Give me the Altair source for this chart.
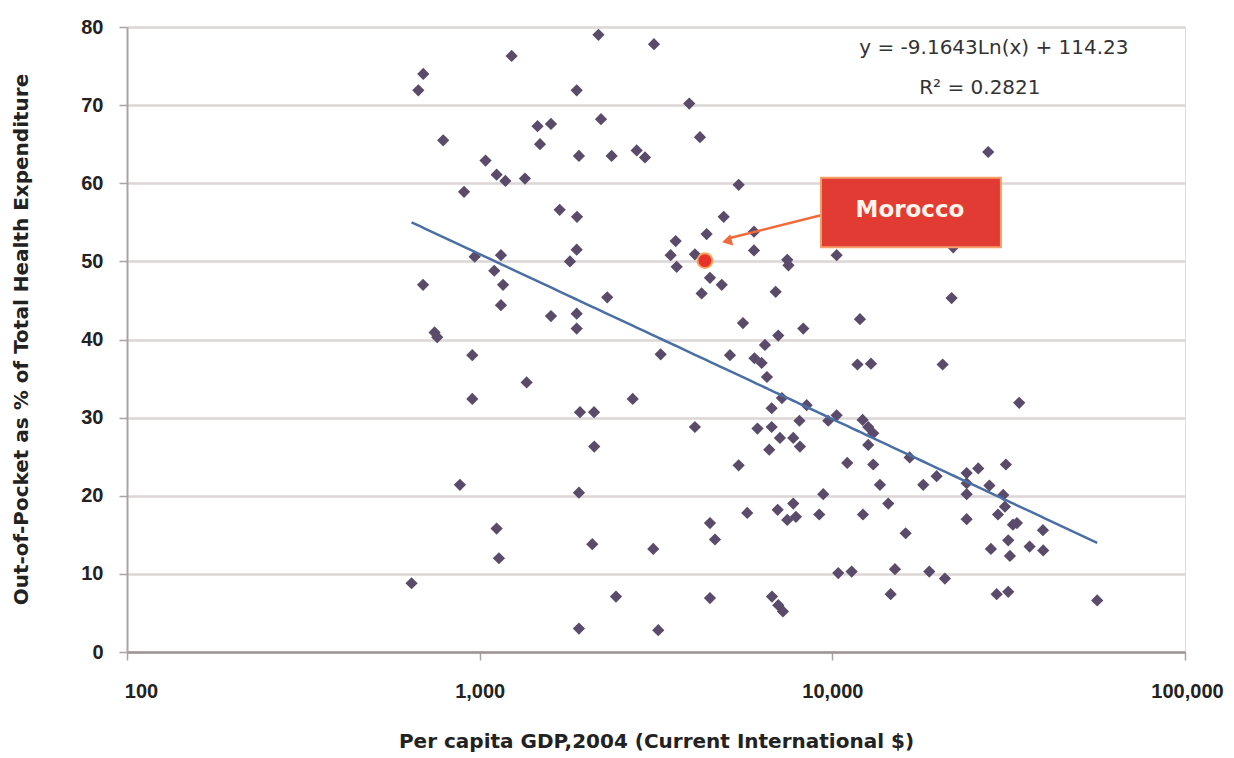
import altair as alt
import pandas as pd

# Per capita GDP 2004 (current international $) and out-of-pocket share (%)
gdp = [641, 670, 692, 691, 745, 758, 788, 879, 903, 953, 953, 968, 1039, 1117, 1183,
       1344, 1149, 1100, 1165, 1149, 1117, 1134, 1232, 1359, 1459, 1593, 1483, 1593, 1686, 1888,
       1884, 1912, 1884, 1803, 1884, 1884, 1925, 1912, 1912, 2110, 2113, 2086, 2172, 2208, 2300,
       2367, 2435, 2716, 2788, 2943, 3121, 3106, 3209, 3260, 3479, 3595, 3619, 3929, 4077, 4077,
       4213, 4260, 4401, 4498, 4857, 4920, 4498, 4648, 4498, 5126, 5425, 5425, 5579, 5738, 5995,
       5995, 6014, 6304, 6441, 6526, 6134, 6729, 6729, 6624, 6907, 7026, 6998, 6743, 7026, 7244,
       7196, 7102, 7749, 8094, 8067, 7451, 7509, 7749, 7450, 7884, 8271, 8456, 9181, 9424, 9737,
       10286, 10286, 10394, 11343, 11024, 11975, 11782, 12870, 12212, 12187, 12641, 13062, 12641, 13062, 13646,
       14409, 15049, 14633, 16139, 16567, 18103, 18831, 19758, 20548, 20857, 21788, 22015, 24036, 25927, 24036,
       24036, 24036, 27670, 27887, 28164, 29236, 31535, 29488, 30518, 30856, 31058, 31535, 31883, 33372, 33876,
       36259, 39549, 39620, 56370, 32514]
oop = [8.8, 71.9, 74.0, 47.0, 40.9, 40.3, 65.5, 21.4, 58.9, 38.0, 32.4, 50.6, 62.9, 61.1, 60.3,
       60.6, 50.8, 48.8, 47.0, 44.4, 15.8, 12.0, 76.3, 34.5, 67.3, 67.6, 65.0, 43.0, 56.6, 55.7,
       71.9, 63.5, 51.5, 50.0, 43.3, 41.4, 30.7, 20.4, 3.0, 30.7, 26.3, 13.8, 79.0, 68.2, 45.4,
       63.5, 7.1, 32.4, 64.2, 63.3, 77.8, 13.2, 2.8, 38.1, 50.8, 52.6, 49.3, 70.2, 50.9, 28.8,
       65.9, 45.9, 53.5, 47.9, 47.0, 55.7, 16.5, 14.4, 6.9, 38.0, 59.8, 23.9, 42.1, 17.8, 53.8,
       51.4, 37.6, 37.0, 39.3, 35.2, 28.6, 28.8, 31.2, 25.9, 46.1, 40.5, 18.2, 7.1, 6.0, 5.2,
       32.5, 27.4, 27.4, 26.3, 29.6, 50.2, 49.5, 19.0, 16.9, 17.3, 41.4, 31.6, 17.6, 20.2, 29.6,
       30.3, 50.8, 10.1, 10.3, 24.2, 42.6, 36.8, 36.9, 17.6, 29.7, 28.8, 28.0, 26.5, 24.0, 21.4,
       19.0, 10.6, 7.4, 15.2, 24.9, 21.4, 10.3, 22.5, 36.8, 9.4, 45.3, 51.8, 22.9, 23.5, 21.6,
       20.2, 17.0, 64.0, 21.3, 13.2, 7.4, 7.7, 17.6, 20.1, 18.6, 24.0, 14.3, 12.3, 16.5, 31.9,
       13.5, 15.6, 13.0, 6.6, 16.3]

morocco_gdp = [4352]
morocco_oop = [50.1]

# trend line coefficients as printed on the chart
slope = -9.1643
intercept = 114.23
eq_lines = ["y = -9.1643Ln(x) + 114.23", "R² = 0.2821"]

x_ticks = [100, 1000, 10000, 100000]
y_ticks = [0, 10, 20, 30, 40, 50, 60, 70, 80]

FONT = "Liberation Sans"
WIDE = "DejaVu Sans"

df = pd.DataFrame({"gdp": gdp, "oop": oop})
df_m = pd.DataFrame({"gdp": morocco_gdp, "oop": morocco_oop})

xscale = alt.Scale(type="log", domain=[100, 100000], nice=False)
yscale = alt.Scale(domain=[0, 80], nice=False)

x_axis = alt.Axis(values=x_ticks, format=",", grid=False, domainColor="#9e9696", domainWidth=2.5,
                  tickColor="#aaa3a3", tickWidth=1.5, tickSize=8, labelFont=FONT, labelFontSize=20,
                  labelFontWeight="bold", labelColor="#222222", labelPadding=21, labelFlush=False,
                  labelOffset=alt.ExprRef(expr="datum.value == 100 ? 14 : (datum.value == 100000 ? 2 : 0)"),
                  title="Per capita GDP,2004 (Current International $)", titleFont=WIDE,
                  titleFontSize=20, titleFontWeight="bold", titleColor="#222222",
                  titleX=529, titleY=89, titleAlign="center", titleBaseline="middle")
y_axis = alt.Axis(values=y_ticks, grid=True, gridColor="#dcd6d6", gridWidth=2.5,
                  domainColor="#aaa3a3", domainWidth=2, tickColor="#aaa3a3", tickWidth=1.5,
                  tickSize=8, labelFont=FONT, labelFontSize=20, labelFontWeight="bold",
                  labelColor="#222222", labelPadding=16,
                  title="Out-of-Pocket as % of Total Health Expenditure", titleFont=WIDE,
                  titleFontSize=20, titleFontWeight="bold", titleColor="#222222",
                  titleX=-106, titleY=312, titleAngle=270, titleAlign="center", titleBaseline="middle")

points = alt.Chart(df).mark_point(shape="diamond", filled=True, size=150, color="#5b4b6b", opacity=1).encode(
    x=alt.X("gdp:Q", scale=xscale, axis=x_axis),
    y=alt.Y("oop:Q", scale=yscale, axis=y_axis),
)

trend = alt.Chart(df).transform_calculate(
    fit=f"{slope}*log(datum.gdp)+{intercept}"
).mark_line(color="#4a6fa5", strokeWidth=2.5).encode(
    x=alt.X("gdp:Q", scale=xscale),
    y=alt.Y("fit:Q", scale=yscale),
    order="gdp:Q",
)

morocco = alt.Chart(df_m).mark_point(shape="circle", filled=True, size=220, color="#e8322c",
                                     stroke="#f7a35c", strokeWidth=2, opacity=1).encode(
    x=alt.X("gdp:Q", scale=xscale), y=alt.Y("oop:Q", scale=yscale))

# annotation (arrow + label box) in data units
arrow_df = pd.DataFrame({"x": [9284], "y": [55.9], "x2": [5126], "y2": [53.0]})
arrow = alt.Chart(arrow_df).mark_rule(color="#f06a3c", strokeWidth=2.5).encode(
    x=alt.X("x:Q", scale=xscale), y=alt.Y("y:Q", scale=yscale), x2="x2:Q", y2="y2:Q")
head_df = pd.DataFrame({"x": [5025], "y": [52.6]})
head = alt.Chart(head_df).mark_point(shape="triangle-up", filled=True, size=130, color="#f06a3c",
                                     angle=256, opacity=1).encode(
    x=alt.X("x:Q", scale=xscale), y=alt.Y("y:Q", scale=yscale))

box_df = pd.DataFrame({"x": [9284], "x2": [30060], "y": [60.7], "y2": [51.8]})
box = alt.Chart(box_df).mark_rect(fill="#e23b33", stroke="#f5a06a", strokeWidth=2).encode(
    x=alt.X("x:Q", scale=xscale), x2="x2:Q", y=alt.Y("y:Q", scale=yscale), y2="y2:Q")
label_df = pd.DataFrame({"x": [16600], "y": [56.6], "t": ["Morocco"]})
label = alt.Chart(label_df).mark_text(font=WIDE, fontSize=23, fontWeight="bold", color="#fff4ea",
                                      align="center", baseline="middle").encode(
    x=alt.X("x:Q", scale=xscale), y=alt.Y("y:Q", scale=yscale), text="t:N")

eq_df = pd.DataFrame({"x": [28720, 26200], "y": [77.3, 72.2], "t": eq_lines})
eq = alt.Chart(eq_df).mark_text(font=WIDE, fontSize=20, color="#333333", align="center",
                                baseline="middle").encode(
    x=alt.X("x:Q", scale=xscale), y=alt.Y("y:Q", scale=yscale), text="t:N")

chart = alt.layer(points, trend, morocco, arrow, head, box, label, eq).properties(
    width=1058, height=625,
    autosize=alt.AutoSizeParams(type="none"),
    padding={"left": 119, "top": 19, "right": 40, "bottom": 100},
).configure_view(stroke="#d0caca", strokeWidth=2).configure(background="white")

chart.save("out.html", embed_options={"renderer": "svg", "actions": False})
